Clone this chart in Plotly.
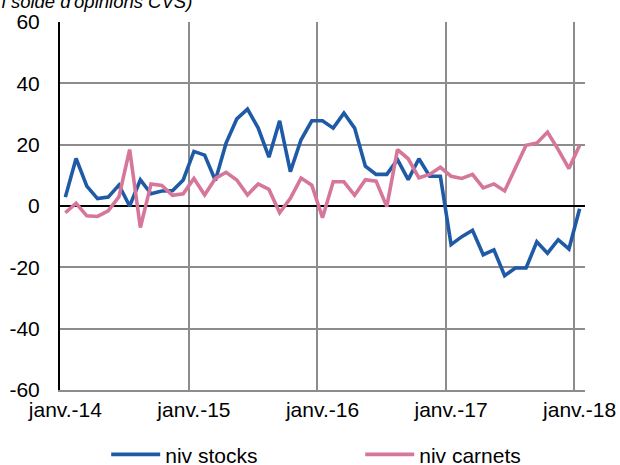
import plotly.graph_objects as go

months = list(range(49))  # Jan 2014 .. Jan 2018, monthly index
tick_labels = ["janv.-14", "janv.-15", "janv.-16", "janv.-17", "janv.-18"]
tick_positions = [0, 12, 24, 36, 48]
y_ticks = [-60, -40, -20, 0, 20, 40, 60]
y_tick_labels = ["-60", "-40", "-20", "0", "20", "40", "60"]

niv_stocks = [2.9, 15.5, 6.5, 2.4, 2.9, 6.8, 0.0, 8.5, 4.0, 4.9, 5.0, 8.5,
              17.8, 16.6, 8.3, 20.5, 28.4, 31.6, 25.4, 15.9, 27.8, 11.2, 21.6, 27.8,
              27.8, 25.4, 30.3, 25.4, 13.0, 10.3, 10.3, 15.1, 8.6, 15.4, 9.7, 9.7,
              -12.6, -10.0, -7.9, -15.9, -14.3, -22.7, -20.2, -20.2, -11.7, -15.4, -11.0, -14.0,
              -0.9]
niv_carnets = [-2.2, 0.9, -3.2, -3.4, -1.6, 3.0, 18.4, -7.0, 7.2, 6.7, 3.5, 4.0,
               9.0, 3.6, 9.0, 11.0, 8.5, 3.6, 7.2, 5.4, -2.2, 2.5, 9.1, 6.8,
               -3.8, 7.9, 7.9, 3.5, 8.6, 8.1, -0.2, 18.4, 15.4, 9.2, 10.3, 12.6,
               9.7, 9.0, 10.3, 5.9, 7.2, 4.9, 12.4, 19.8, 20.5, 24.1, 18.4, 12.2,
               19.8]

BLUE = "#1F5AA6"
PINK = "#D5769A"
GRID = "#8C8C8C"
FONT = "Liberation Sans, Arial, sans-serif"

fig = go.Figure()
fig.add_trace(go.Scatter(x=months, y=niv_stocks, mode="lines", name="niv stocks",
                         line=dict(color=BLUE, width=3.6)))
fig.add_trace(go.Scatter(x=months, y=niv_carnets, mode="lines", name="niv carnets",
                         line=dict(color=PINK, width=3.6)))

fig.update_layout(
    width=620, height=465,
    margin=dict(l=60, r=34.5, t=21.5, b=75, autoexpand=False),
    paper_bgcolor="white", plot_bgcolor="white",
    font=dict(family=FONT, size=21, color="black"),
    showlegend=True,
    legend=dict(orientation="h", x=0.088, xanchor="left", y=-0.176, yanchor="middle",
                font=dict(size=21), entrywidth=190, itemwidth=49),
    annotations=[dict(text="<i>(en solde d'opinions CVS)</i>", xref="paper", yref="paper",
                      x=-0.158, y=1.057, xanchor="left", yanchor="middle",
                      showarrow=False, font=dict(size=18.5, family=FONT, color="black"))],
)

fig.update_xaxes(
    range=[-0.5, 48.5], automargin=False,
    tickvals=tick_positions, ticktext=tick_labels,
    showgrid=False, zeroline=False,
    showline=True, linecolor=GRID, linewidth=1.5,
    ticks="",
    minor=dict(tick0=-0.5, dtick=12, showgrid=True, gridcolor=GRID, gridwidth=1.5, ticks=""),
    tickfont=dict(size=21),
)
fig.update_yaxes(
    range=[-60, 60], automargin=False,
    tickvals=y_ticks, ticktext=y_tick_labels,
    showgrid=True, gridcolor=GRID, gridwidth=1.5,
    zeroline=True, zerolinecolor="black", zerolinewidth=2,
    showline=True, linecolor="black", linewidth=2,
    ticks="", ticklabelstandoff=14,
    tickfont=dict(size=21),
)

fig.write_html("out.html", config={"displayModeBar": False},
               post_script="document.body.style.margin='0';")
